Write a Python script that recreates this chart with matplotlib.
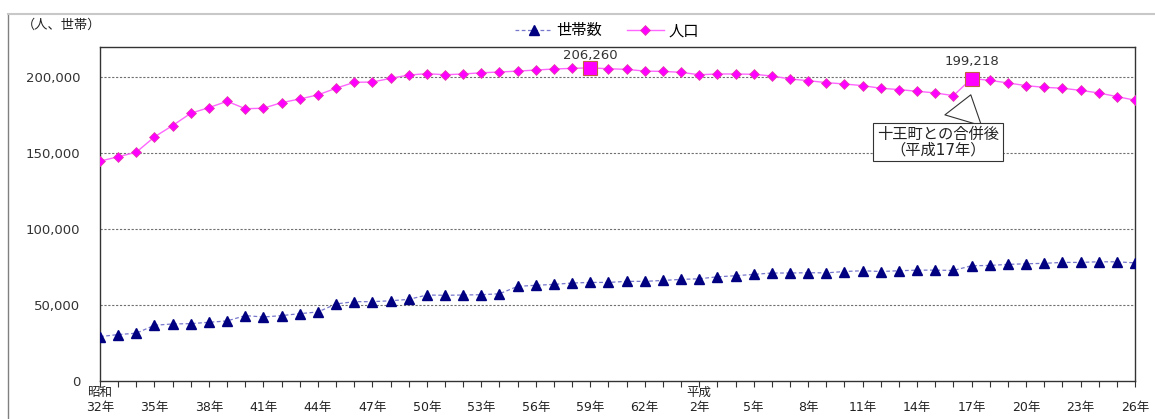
import matplotlib.pyplot as plt
from matplotlib.lines import Line2D
import numpy as np

plt.rcParams['font.family'] = ['DejaVu Sans', 'Noto Sans CJK JP']

# 昭和32年 .. 昭和63年, 平成元年 .. 平成26年
years = [f"S{y}" for y in range(32, 64)] + [f"H{y}" for y in range(1, 27)]

# 人口
population = [144700, 147600, 150600, 160700, 168200, 176300, 180000, 184200, 179300, 179600,
              183300, 185700, 188400, 192800, 196700, 196900, 199300, 201500, 202400, 201700,
              202200, 203000, 203500, 204100, 204800, 205500, 205900, 206260, 205650, 205260,
              204100, 203900, 203300, 201700, 202200, 202200, 202000, 200900, 198900, 197800,
              196500, 195600, 194500, 192800, 191900, 190800, 189700, 187900, 199218, 198000,
              196300, 194500, 193400, 192800, 191400, 189700, 187300, 184900]

# 世帯数
households = [28950, 30300, 31200, 36450, 37300, 37500, 38400, 39300, 42800, 41900,
              42800, 44100, 45200, 50500, 52000, 52000, 52600, 53500, 56400, 56200,
              56400, 56600, 57200, 62100, 62800, 63400, 64300, 64700, 64700, 65400,
              65400, 66000, 66700, 67100, 68400, 69100, 70000, 70900, 70900, 71100,
              71000, 71900, 72400, 71900, 72400, 72800, 72800, 72600, 75700, 75900,
              76600, 77000, 77300, 77900, 77900, 78300, 78300, 77600]

tick_labels = ["32年", "35年", "38年", "41年", "44年", "47年", "50年", "53年", "56年",
               "59年", "62年", "2年", "5年", "8年", "11年", "14年", "17年", "20年",
               "23年", "26年"]
eras = {"S32": "昭和", "H2": "平成"}

highlight = ["S59", "H17"]  # 最大値 / 合併後

x = np.arange(len(years))
hl = [years.index(h) for h in highlight]

fig = plt.figure(figsize=(11.55, 4.19), dpi=100)
W, H = 1155, 419

# outer chart frame (clipped on right / bottom)
fig.add_artist(Line2D([8 / W, 8 / W], [0, 1 - 14 / H], color='#808080', lw=1.0))
fig.add_artist(Line2D([8 / W, 1], [1 - 14 / H, 1 - 14 / H], color='#c8c8c8', lw=1.5))

ax = fig.add_axes([100 / W, 38.5 / H, 1035 / W, 333.5 / H])

for v in [50000, 100000, 150000, 200000]:
    ax.axhline(v, color='#707070', lw=0.8, ls=(0, (2, 1.5)), zorder=1)

ax.plot(x, households, color='#7777cc', lw=0.9, ls=(0, (3, 2)), marker='^',
        markersize=6.5, markerfacecolor='#000080', markeredgecolor='#000080', zorder=3,
        label='世帯数')
ax.plot(x, population, color='#ff66ff', lw=1.0, marker='D', markersize=5,
        markerfacecolor='#ff00ff', markeredgecolor='#e040a0', markeredgewidth=0.5, zorder=3,
        label='人口')
ax.plot(x[hl], np.array(population)[hl], ls='none', marker='s', markersize=10.5,
        markerfacecolor='#ff00ff', markeredgecolor='#c06040', markeredgewidth=0.8, zorder=4)

for i, off in zip(hl, [9, 12]):
    ax.annotate(f"{population[i]:,}", xy=(x[i], population[i]), xytext=(0, off),
                textcoords='offset points', ha='center', va='center',
                fontsize=9.5, color='#333333')

# callout
ax.annotate("十王町との合併後\n（平成17年）", xy=(x[hl[1]], population[hl[1]] - 9000),
            xytext=(x[hl[1]] - 1.85, 157200), ha='center', va='center',
            fontsize=11, color='#222222', linespacing=1.0,
            bbox=dict(boxstyle='square,pad=0.25', fc='white', ec='#333333', lw=0.8),
            arrowprops=dict(arrowstyle='wedge,tail_width=2.5,shrink_factor=0.5', fc='white',
                            ec='#333333', lw=0.8, relpos=(0.69, 1.0)),
            zorder=5)

ax.set_xlim(x[0], x[-1])
ax.set_ylim(0, 220000)
ax.set_yticks([0, 50000, 100000, 150000, 200000])
ax.set_yticklabels([f"{v:,}" for v in [0, 50000, 100000, 150000, 200000]], fontsize=9.5,
                   color='#333333')
ax.tick_params(axis='y', length=0, pad=14)
ax.set_xticks(x[::3])
ax.set_xticklabels(tick_labels, fontsize=9, color='#222222')
ax.set_xticks(x, minor=True)
ax.tick_params(axis='x', which='both', direction='out', length=4, width=0.8,
               color='#333333', pad=10.5)
for s in ax.spines.values():
    s.set_color('#333333')
    s.set_linewidth(1.0)

for key, era in eras.items():
    ax.annotate(era, xy=(x[years.index(key)], 0), xycoords=('data', 'axes fraction'),
                xytext=(0, -8.5), textcoords='offset points', ha='center', va='center',
                fontsize=9, color='#222222')

fig.text(22 / W, 1 - 25 / H, "（人、世帯）", fontsize=9.5, color='#222222', va='center')

ax.legend(loc='center', bbox_to_anchor=(607 / W, 1 - 31 / H), bbox_transform=fig.transFigure,
          ncol=2, frameon=False, fontsize=11, handlelength=2.4, columnspacing=1.6,
          handletextpad=0.3)

fig.savefig('out.png', dpi=100)
